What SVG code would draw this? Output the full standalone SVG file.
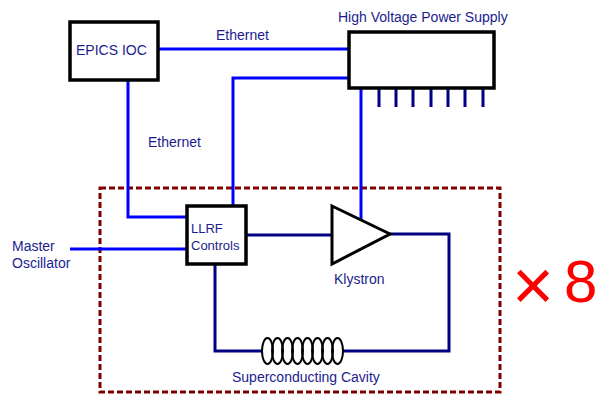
<svg xmlns="http://www.w3.org/2000/svg" width="599" height="394" viewBox="0 0 599 394">
<style>
text{font-family:"Liberation Sans",Arial,sans-serif;font-size:14px;fill:#1c1c8e}
.box{fill:#fff;stroke:#000;stroke-width:3.5}
.b{fill:none;stroke:#0000ff;stroke-width:3}
.n{fill:none;stroke:#000080;stroke-width:3}
.coil{fill:none;stroke:#000;stroke-width:2}
.red{fill:#ff0000}
</style>
<rect width="599" height="394" fill="#fff"/>
<rect id="group-frame" x="100" y="188" width="400" height="204" fill="none" stroke="#800000" stroke-width="3" stroke-dasharray="6,3"/>
<g id="connectors">
<path class="b" d="M158 49H349"/>
<path class="b" d="M233 207V78H349"/>
<path class="b" d="M128 81V217H187"/>
<path class="b" d="M70 249H187"/>
<path class="b" d="M361 88V222"/>
<path class="n" d="M246 235H332"/>
<path class="n" d="M390 234H449V351H343"/>
<path class="n" d="M215 264V351H262"/>
<g class="n" stroke-width="2.5">
<path d="M379 88V107M396 88V107M413 88V107M431 88V107M448 88V107M465 88V107M483 88V107"/>
</g>
</g>
<g id="epics-ioc">
<rect class="box" x="70" y="22" width="88" height="58"/>
<text x="76" y="55">EPICS IOC</text>
</g>
<g id="hvps">
<rect class="box" x="349" y="32" width="145" height="56"/>
<text x="338" y="22">High Voltage Power Supply</text>
</g>
<g id="llrf">
<rect class="box" x="187" y="206" width="59" height="58"/>
<text x="191" y="233" style="font-size:13px">LLRF</text>
<text x="191" y="250" style="font-size:13px">Controls</text>
</g>
<g id="klystron">
<path d="M332 206L390 234L332 264Z" fill="#fff" stroke="#000" stroke-width="3" stroke-linejoin="miter"/>
<text x="334" y="284">Klystron</text>
</g>
<g id="cavity">
<g class="coil">
<ellipse cx="267.5" cy="351" rx="5.5" ry="13"/>
<ellipse cx="277.5" cy="351" rx="5.5" ry="13"/>
<ellipse cx="287.5" cy="351" rx="5.5" ry="13"/>
<ellipse cx="297.5" cy="351" rx="5.5" ry="13"/>
<ellipse cx="307.5" cy="351" rx="5.5" ry="13"/>
<ellipse cx="317.5" cy="351" rx="5.5" ry="13"/>
<ellipse cx="327.5" cy="351" rx="5.5" ry="13"/>
<ellipse cx="337.5" cy="351" rx="5.5" ry="13"/>
</g>
<text x="232" y="382">Superconducting Cavity</text>
</g>
<g id="master-osc">
<text x="12" y="251">Master</text>
<text x="12" y="268">Oscillator</text>
</g>
<text x="216" y="40">Ethernet</text>
<text x="148" y="147">Ethernet</text>
<text class="red" x="512" y="310" style="font-size:72px;font-weight:300">×</text>
<text class="red" x="564" y="302" style="font-size:60px">8</text>
</svg>
